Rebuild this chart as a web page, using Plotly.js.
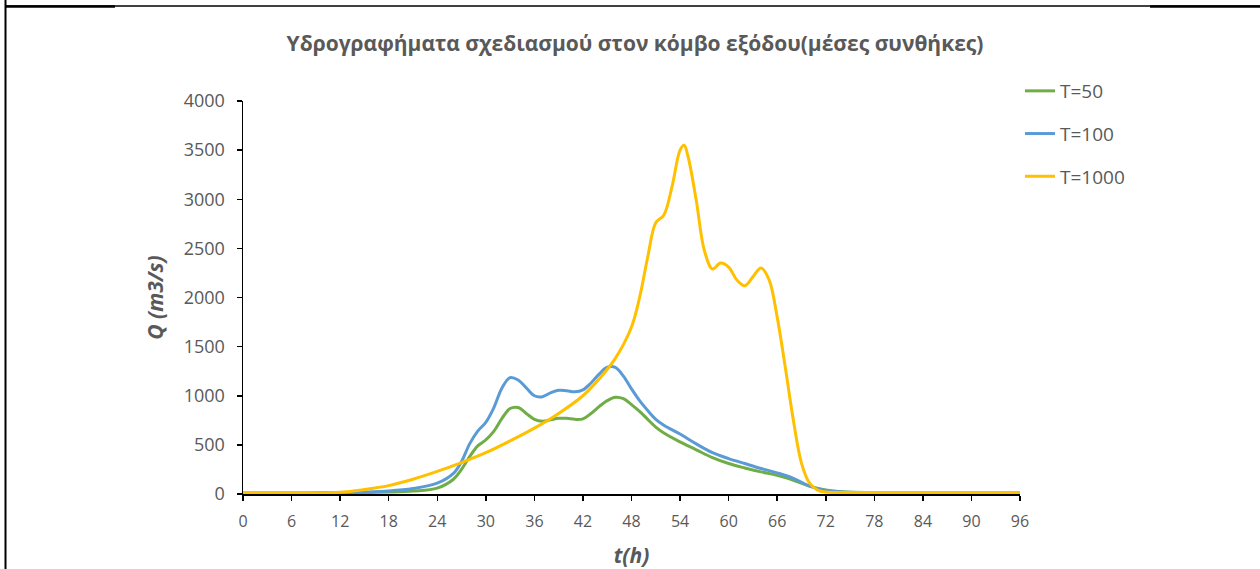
<!DOCTYPE html>
<html>
<head>
<meta charset="utf-8">
<script src="https://cdn.plot.ly/plotly-3.0.1.min.js"></script>
<style>html,body{margin:0;padding:0;background:#fff;}#chart{width:1260px;height:569px;}</style>
</head>
<body>
<div id="chart"></div>
<script>
// Time (hours) and discharge (m3/s)
const tT50 = [0, 6, 12, 15, 18, 21, 24, 26, 27, 28, 29, 30, 31, 32, 33, 34, 35, 36, 37, 38, 39, 40, 41, 42, 43, 44, 45, 46, 47, 48, 49, 50, 51, 52, 54, 56, 58, 60, 62, 64, 66, 68, 70, 72, 74, 78, 84, 90, 96];
const qT50 = [15, 15, 15, 15, 20, 30, 60, 150, 250, 380, 490, 550, 640, 770, 870, 880, 820, 760, 740, 755, 770, 770, 760, 765, 820, 890, 950, 985, 970, 910, 840, 760, 680, 620, 530, 450, 370, 310, 265, 225, 190, 140, 80, 40, 22, 15, 15, 15, 15];

const tT100 = [0, 6, 12, 15, 18, 21, 24, 26, 27, 28, 29, 30, 31, 32, 33, 34, 35, 36, 37, 38, 39, 40, 41, 42, 43, 44, 45, 46, 47, 48, 49, 50, 51, 52, 54, 56, 58, 60, 62, 64, 66, 68, 70, 72, 74, 78, 84, 90, 96];
const qT100 = [15, 15, 15, 20, 30, 55, 110, 210, 330, 510, 640, 730, 880, 1080, 1185, 1160, 1080, 1000, 990, 1030, 1055, 1050, 1040, 1060, 1130, 1220, 1290, 1290, 1200, 1070, 950, 850, 760, 700, 610, 510, 420, 360, 310, 260, 215, 160, 80, 35, 20, 15, 15, 15, 15];

const tT1000 = [0, 6, 12, 15, 18, 21, 24, 27, 30, 33, 36, 39, 42, 44, 46, 48, 49, 50, 51, 52, 53, 54, 54.5, 55, 56, 57, 58, 59, 60, 61, 62, 63, 64, 65, 66, 67, 68, 69, 70, 71, 72, 74, 78, 84, 90, 96];
const qT1000 = [15, 15, 18, 45, 85, 150, 230, 320, 420, 540, 670, 820, 1000, 1170, 1380, 1700, 2000, 2410, 2760, 2840, 3125, 3500, 3550, 3430, 2990, 2480, 2290, 2350, 2310, 2180, 2120, 2210, 2300, 2180, 1800, 1290, 750, 315, 110, 40, 20, 15, 15, 15, 15, 15];

const seriesNames = ["T=50", "T=100", "T=1000"];
const xTicks = [0, 6, 12, 18, 24, 30, 36, 42, 48, 54, 60, 66, 72, 78, 84, 90, 96];

const W = 1260, H = 569;
const M = {l: 243, r: 240, t: 101, b: 75};
const pw = W - M.l - M.r, ph = H - M.t - M.b;
const px = x => (x - M.l) / pw;
const py = y => (H - M.b - y) / ph;

const mk = (x, y, name, color) => ({
  x: x, y: y, name: name, type: 'scatter', mode: 'lines',
  line: {color: color, width: 3, shape: 'spline', smoothing: 1},
  legendgroup: name, hoverinfo: 'x+y+name'
});

const data = [
  mk(tT50, qT50, seriesNames[0], '#70AD47'),
  mk(tT100, qT100, seriesNames[1], '#5B9BD5'),
  mk(tT1000, qT1000, seriesNames[2], '#FFC000')
];

const font = "'Open Sans', 'Liberation Sans', sans-serif";
const layout = {
  width: W, height: H,
  margin: M,
  paper_bgcolor: '#fff', plot_bgcolor: '#fff',
  font: {family: font, color: '#595959', size: 16},
  title: {
    text: '<b>Υδρογραφήματα σχεδιασμού στον κόμβο εξόδου(μέσες συνθήκες)</b>',
    font: {family: font, size: 21, color: '#595959'},
    x: 635 / W, xanchor: 'center', xref: 'container',
    y: 1 - 44 / H, yanchor: 'middle', yref: 'container'
  },
  xaxis: {
    range: [0, 96], tickvals: xTicks, ticktext: xTicks.map(String),
    showgrid: false, zeroline: false,
    showline: true, linecolor: '#000', linewidth: 1.5,
    ticks: 'outside', ticklen: 5, tickwidth: 1.5, tickcolor: '#000',
    ticklabelstandoff: 7,
    tickfont: {family: font, size: 16, color: '#595959'},
    title: {text: '<b><i>t(h)</i></b>', font: {family: font, size: 21, color: '#595959'}, standoff: 18}
  },
  yaxis: {
    range: [0, 4000], dtick: 500, tick0: 0,
    showgrid: false, zeroline: false,
    showline: true, linecolor: '#000', linewidth: 1.5,
    ticks: 'outside', ticklen: 5, tickwidth: 1.5, tickcolor: '#000',
    ticklabelstandoff: 8,
    tickfont: {family: font, size: 18, color: '#595959'},
    title: {text: '<b><i>Q (m3/s)</i></b>', font: {family: font, size: 21, color: '#595959'}, standoff: 14}
  },
  showlegend: true,
  legend: {
    x: px(1020), y: py(72), xanchor: 'left', yanchor: 'top',
    traceorder: 'grouped', tracegroupgap: 15,
    font: {family: font, size: 19, color: '#595959'},
    bgcolor: 'rgba(0,0,0,0)'
  },
  shapes: [
    {type: 'line', xref: 'paper', yref: 'paper', x0: px(5), x1: px(1260), y0: py(6), y1: py(6), line: {color: '#000', width: 1.5}},
    {type: 'line', xref: 'paper', yref: 'paper', x0: px(5), x1: px(115), y0: py(6.5), y1: py(6.5), line: {color: '#000', width: 2.5}},
    {type: 'line', xref: 'paper', yref: 'paper', x0: px(1150), x1: px(1260), y0: py(6.5), y1: py(6.5), line: {color: '#000', width: 2.5}},
    {type: 'line', xref: 'paper', yref: 'paper', x0: px(5.5), x1: px(5.5), y0: py(0), y1: py(569), line: {color: '#000', width: 2}}
  ]
};

Plotly.newPlot('chart', data, layout, {displayModeBar: false, staticPlot: true});
</script>
</body>
</html>
